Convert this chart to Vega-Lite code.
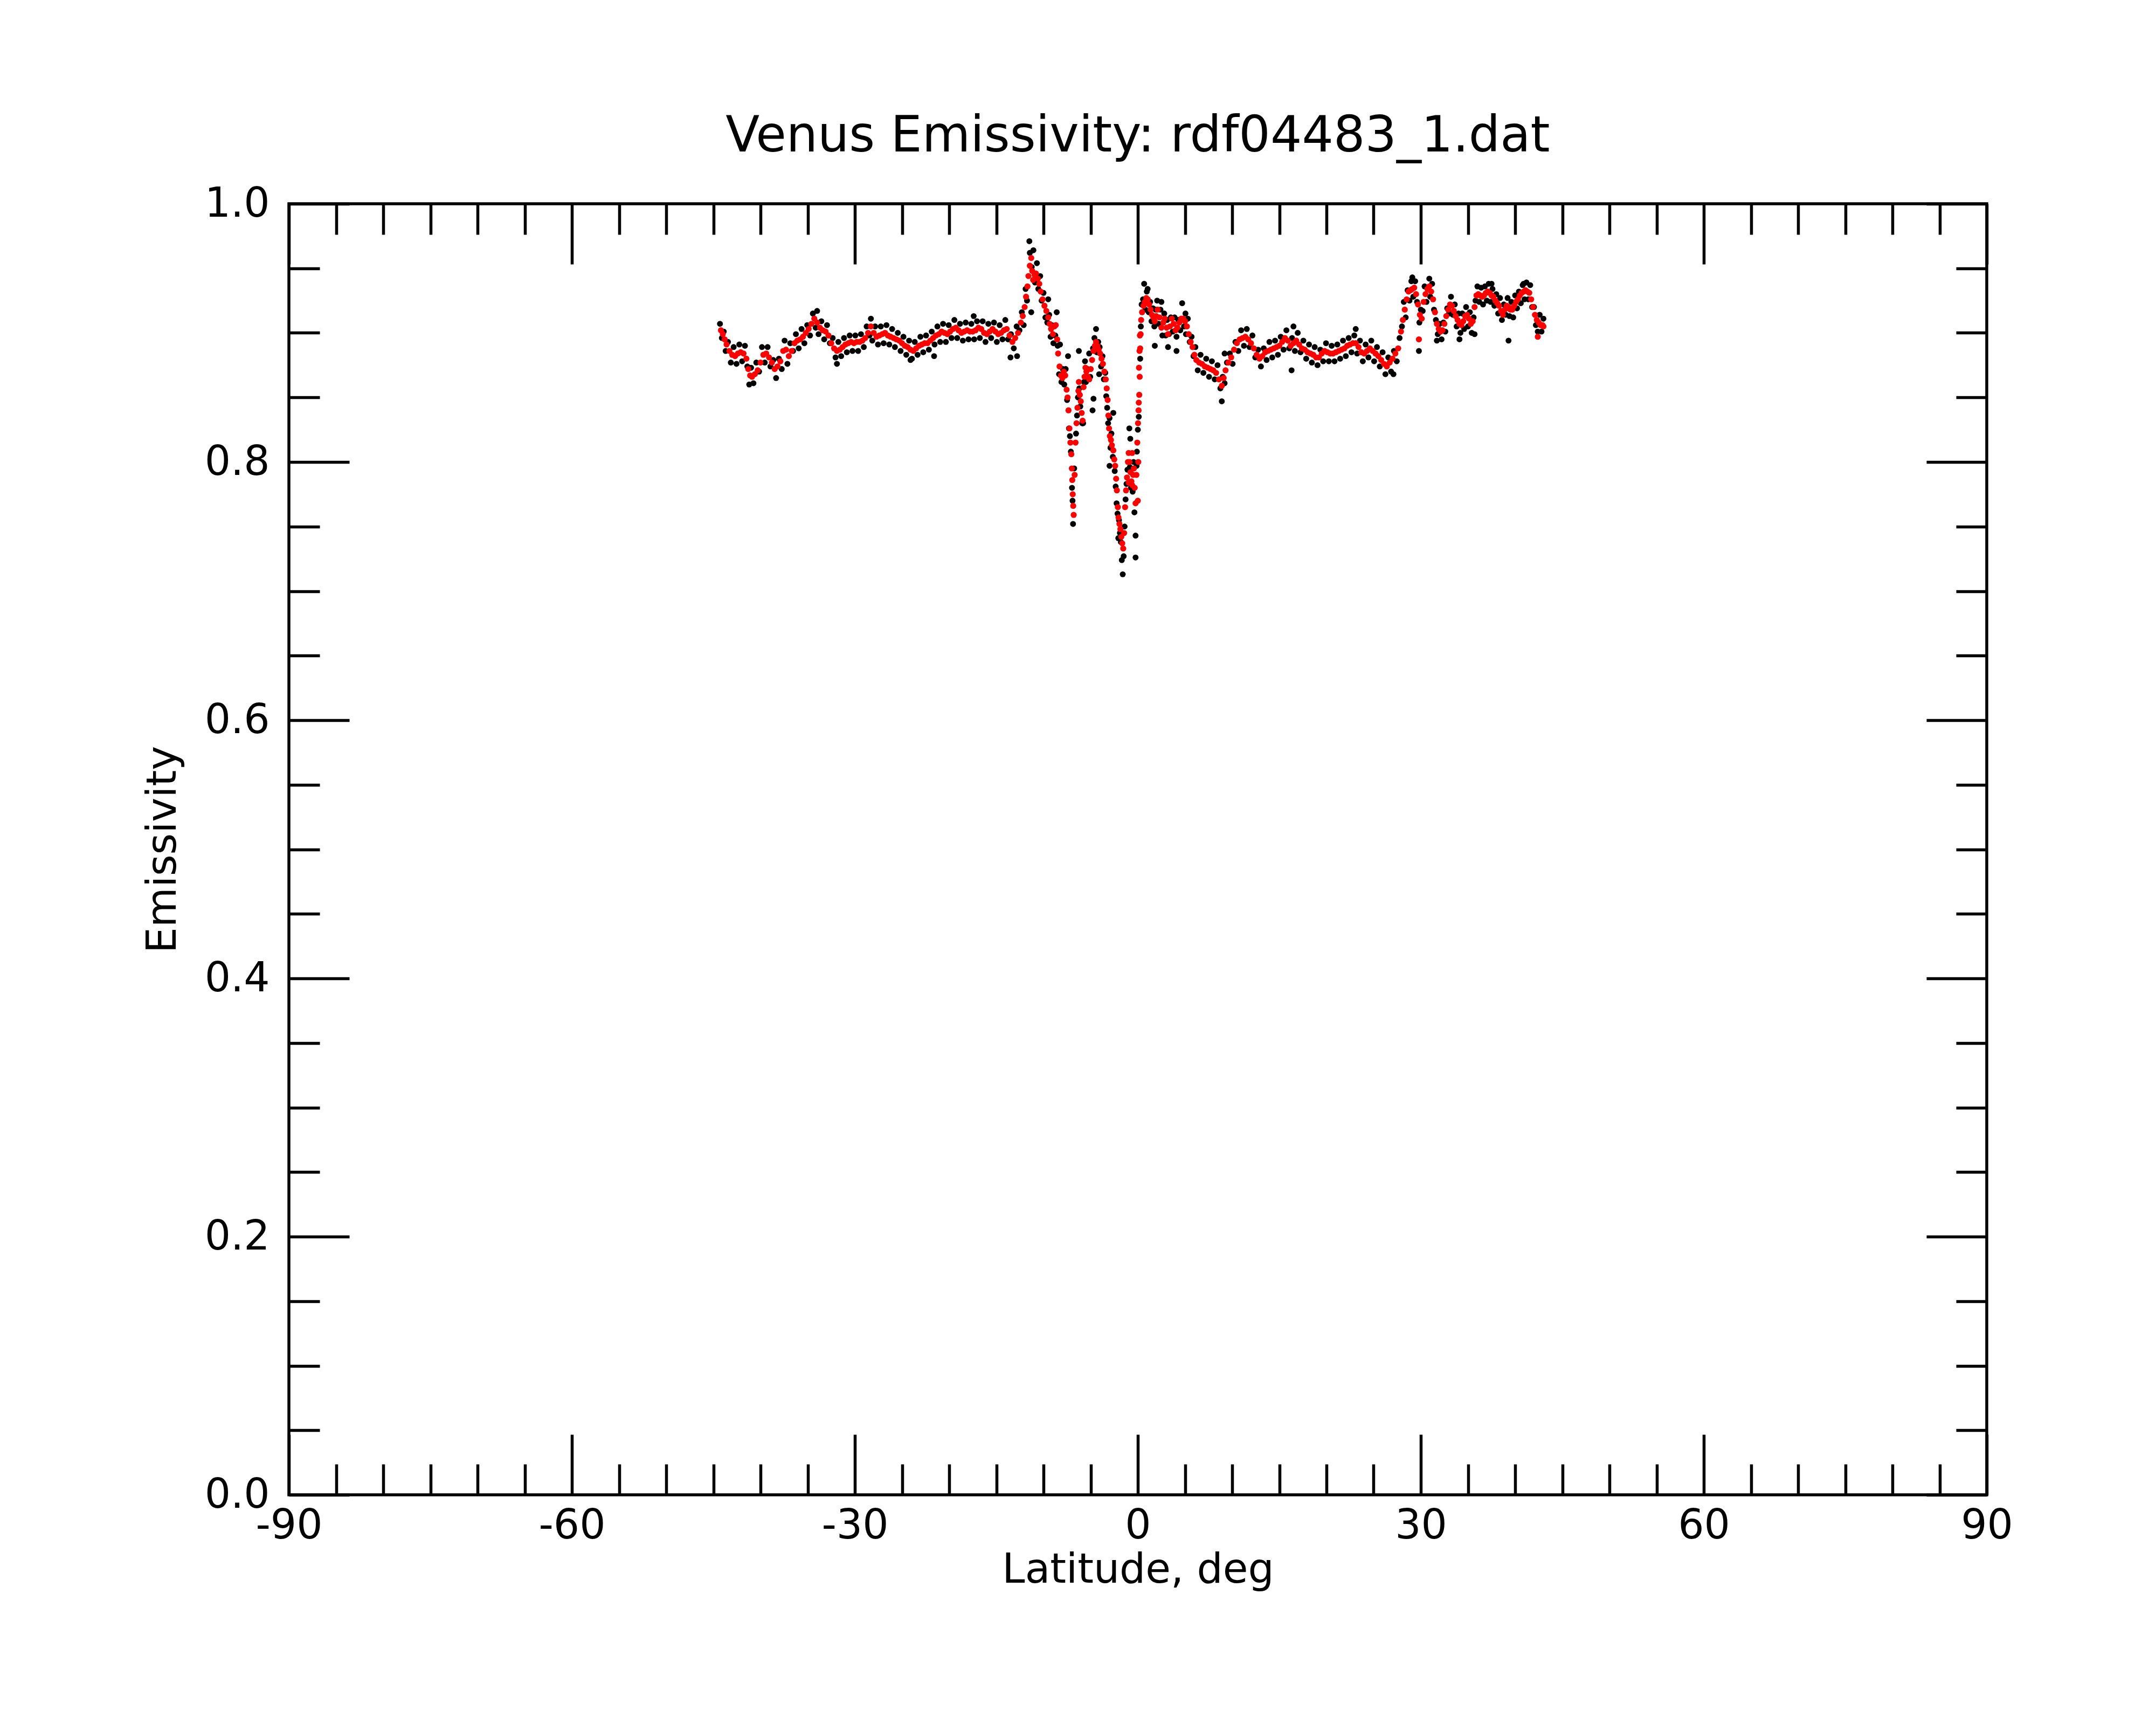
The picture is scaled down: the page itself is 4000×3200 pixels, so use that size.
{
"$schema":"https://vega.github.io/schema/vega-lite/v6.json",
"width":3150,"height":2395,
"autosize":{"type":"none"},
"padding":{"left":536,"top":378,"right":314,"bottom":427},
"title":{"text":"Venus Emissivity: rdf04483_1.dat","fontSize":92,"font":"DejaVu Sans","fontWeight":"normal","color":"#000000","baseline":"alphabetic","offset":-33,"anchor":"middle","frame":"group"},
"config":{"font":"DejaVu Sans","view":{"stroke":"#000000","strokeWidth":5.5,"fill":"white"},"background":"white"},
"datasets":{
"red":[
{"lat":-44.2,"em":0.902},{"lat":-44.0,"em":0.899},{"lat":-43.8,"em":0.895},{"lat":-43.6,"em":0.891},{"lat":-43.3,"em":0.886},{"lat":-43.0,"em":0.883},{"lat":-42.7,"em":0.882},{"lat":-42.4,"em":0.884},{"lat":-42.1,"em":0.885},{"lat":-41.8,"em":0.884},{"lat":-41.5,"em":0.880},{"lat":-41.3,"em":0.872},{"lat":-41.1,"em":0.867},{"lat":-40.9,"em":0.866},{"lat":-40.6,"em":0.868},{"lat":-40.3,"em":0.871},{"lat":-40.0,"em":0.877},{"lat":-39.7,"em":0.883},{"lat":-39.4,"em":0.884},{"lat":-39.1,"em":0.881},{"lat":-38.8,"em":0.877},{"lat":-38.5,"em":0.872},{"lat":-38.2,"em":0.874},{"lat":-37.9,"em":0.878},{"lat":-37.6,"em":0.886},{"lat":-37.3,"em":0.887},{"lat":-37.0,"em":0.882},{"lat":-36.7,"em":0.886},{"lat":-36.4,"em":0.892},{"lat":-36.1,"em":0.894},{"lat":-35.8,"em":0.895},{"lat":-35.5,"em":0.897},{"lat":-35.2,"em":0.900},{"lat":-34.9,"em":0.903},{"lat":-34.6,"em":0.907},{"lat":-34.3,"em":0.911},{"lat":-34.0,"em":0.908},{"lat":-33.7,"em":0.904},{"lat":-33.4,"em":0.902},{"lat":-33.1,"em":0.901},{"lat":-32.8,"em":0.898},{"lat":-32.5,"em":0.892},{"lat":-32.2,"em":0.888},{"lat":-31.9,"em":0.886},{"lat":-31.6,"em":0.887},{"lat":-31.3,"em":0.889},{"lat":-31.0,"em":0.891},{"lat":-30.7,"em":0.892},{"lat":-30.4,"em":0.893},{"lat":-30.1,"em":0.892},{"lat":-29.8,"em":0.893},{"lat":-29.5,"em":0.893},{"lat":-29.2,"em":0.894},{"lat":-28.9,"em":0.896},{"lat":-28.6,"em":0.900},{"lat":-28.3,"em":0.905},{"lat":-28.0,"em":0.900},{"lat":-27.7,"em":0.897},{"lat":-27.4,"em":0.898},{"lat":-27.1,"em":0.899},{"lat":-26.8,"em":0.900},{"lat":-26.5,"em":0.898},{"lat":-26.2,"em":0.897},{"lat":-25.9,"em":0.896},{"lat":-25.6,"em":0.895},{"lat":-25.3,"em":0.894},{"lat":-25.0,"em":0.892},{"lat":-24.7,"em":0.890},{"lat":-24.4,"em":0.889},{"lat":-24.1,"em":0.887},{"lat":-23.8,"em":0.886},{"lat":-23.5,"em":0.888},{"lat":-23.2,"em":0.890},{"lat":-22.9,"em":0.891},{"lat":-22.6,"em":0.892},{"lat":-22.3,"em":0.892},{"lat":-22.0,"em":0.894},{"lat":-21.7,"em":0.896},{"lat":-21.4,"em":0.898},{"lat":-21.1,"em":0.899},{"lat":-20.8,"em":0.901},{"lat":-20.5,"em":0.900},{"lat":-20.2,"em":0.899},{"lat":-19.9,"em":0.901},{"lat":-19.6,"em":0.903},{"lat":-19.3,"em":0.904},{"lat":-19.0,"em":0.902},{"lat":-18.7,"em":0.900},{"lat":-18.4,"em":0.901},{"lat":-18.1,"em":0.902},{"lat":-17.8,"em":0.901},{"lat":-17.5,"em":0.901},{"lat":-17.2,"em":0.902},{"lat":-16.9,"em":0.904},{"lat":-16.6,"em":0.903},{"lat":-16.3,"em":0.900},{"lat":-16.0,"em":0.899},{"lat":-15.7,"em":0.901},{"lat":-15.4,"em":0.903},{"lat":-15.1,"em":0.901},{"lat":-14.8,"em":0.899},{"lat":-14.5,"em":0.900},{"lat":-14.2,"em":0.902},{"lat":-13.9,"em":0.903},{"lat":-13.6,"em":0.898},{"lat":-13.3,"em":0.893},{"lat":-13.0,"em":0.896},{"lat":-12.7,"em":0.900},{"lat":-12.4,"em":0.908},{"lat":-12.2,"em":0.913},{"lat":-12.0,"em":0.920},{"lat":-11.85,"em":0.928},{"lat":-11.7,"em":0.936},{"lat":-11.6,"em":0.944},{"lat":-11.45,"em":0.952},{"lat":-11.3,"em":0.958},{"lat":-11.2,"em":0.948},{"lat":-11.1,"em":0.941},{"lat":-10.95,"em":0.945},{"lat":-10.8,"em":0.946},{"lat":-10.6,"em":0.942},{"lat":-10.45,"em":0.938},{"lat":-10.3,"em":0.932},{"lat":-10.1,"em":0.926},{"lat":-9.9,"em":0.921},{"lat":-9.7,"em":0.917},{"lat":-9.5,"em":0.912},{"lat":-9.35,"em":0.907},{"lat":-9.2,"em":0.903},{"lat":-9.0,"em":0.899},{"lat":-8.85,"em":0.905},{"lat":-8.7,"em":0.906},{"lat":-8.55,"em":0.895},{"lat":-8.45,"em":0.884},{"lat":-8.3,"em":0.874},{"lat":-8.15,"em":0.867},{"lat":-8.0,"em":0.865},{"lat":-7.85,"em":0.870},{"lat":-7.7,"em":0.867},{"lat":-7.55,"em":0.856},{"lat":-7.45,"em":0.850},{"lat":-7.35,"em":0.840},{"lat":-7.25,"em":0.826},{"lat":-7.15,"em":0.815},{"lat":-7.05,"em":0.806},{"lat":-7.0,"em":0.795},{"lat":-6.95,"em":0.786},{"lat":-6.9,"em":0.775},{"lat":-6.85,"em":0.766},{"lat":-6.8,"em":0.759},{"lat":-6.7,"em":0.790},{"lat":-6.6,"em":0.815},{"lat":-6.5,"em":0.830},{"lat":-6.4,"em":0.842},{"lat":-6.3,"em":0.855},{"lat":-6.25,"em":0.862},{"lat":-6.15,"em":0.852},{"lat":-6.05,"em":0.847},{"lat":-5.95,"em":0.838},{"lat":-5.85,"em":0.832},{"lat":-5.75,"em":0.858},{"lat":-5.65,"em":0.866},{"lat":-5.55,"em":0.873},{"lat":-5.45,"em":0.870},{"lat":-5.3,"em":0.866},{"lat":-5.15,"em":0.864},{"lat":-5.0,"em":0.872},{"lat":-4.85,"em":0.879},{"lat":-4.7,"em":0.886},{"lat":-4.55,"em":0.890},{"lat":-4.43,"em":0.893},{"lat":-4.3,"em":0.890},{"lat":-4.15,"em":0.887},{"lat":-4.0,"em":0.884},{"lat":-3.85,"em":0.880},{"lat":-3.7,"em":0.876},{"lat":-3.55,"em":0.870},{"lat":-3.4,"em":0.864},{"lat":-3.3,"em":0.857},{"lat":-3.2,"em":0.848},{"lat":-3.12,"em":0.836},{"lat":-3.05,"em":0.826},{"lat":-2.97,"em":0.820},{"lat":-2.85,"em":0.817},{"lat":-2.75,"em":0.813},{"lat":-2.6,"em":0.809},{"lat":-2.5,"em":0.802},{"lat":-2.4,"em":0.797},{"lat":-2.3,"em":0.787},{"lat":-2.22,"em":0.778},{"lat":-2.12,"em":0.765},{"lat":-2.05,"em":0.757},{"lat":-1.95,"em":0.752},{"lat":-1.85,"em":0.748},{"lat":-1.75,"em":0.742},{"lat":-1.65,"em":0.737},{"lat":-1.55,"em":0.733},{"lat":-1.45,"em":0.745},{"lat":-1.35,"em":0.765},{"lat":-1.25,"em":0.778},{"lat":-1.15,"em":0.788},{"lat":-1.05,"em":0.800},{"lat":-0.97,"em":0.807},{"lat":-0.97,"em":0.784},{"lat":-0.88,"em":0.800},{"lat":-0.78,"em":0.792},{"lat":-0.68,"em":0.785},{"lat":-0.6,"em":0.782},{"lat":-0.6,"em":0.807},{"lat":-0.5,"em":0.790},{"lat":-0.42,"em":0.795},{"lat":-0.33,"em":0.780},{"lat":-0.24,"em":0.768},{"lat":-0.15,"em":0.790},{"lat":-0.06,"em":0.815},{"lat":0.0,"em":0.770},{"lat":0.02,"em":0.830},{"lat":0.05,"em":0.800},{"lat":0.08,"em":0.840},{"lat":0.1,"em":0.846},{"lat":0.12,"em":0.873},{"lat":0.15,"em":0.852},{"lat":0.18,"em":0.886},{"lat":0.2,"em":0.866},{"lat":0.22,"em":0.898},{"lat":0.25,"em":0.888},{"lat":0.3,"em":0.899},{"lat":0.35,"em":0.910},{"lat":0.45,"em":0.916},{"lat":0.6,"em":0.921},{"lat":0.75,"em":0.924},{"lat":0.9,"em":0.927},{"lat":1.05,"em":0.926},{"lat":1.2,"em":0.922},{"lat":1.35,"em":0.918},{"lat":1.5,"em":0.914},{"lat":1.65,"em":0.912},{"lat":1.8,"em":0.909},{"lat":1.95,"em":0.913},{"lat":2.1,"em":0.918},{"lat":2.3,"em":0.912},{"lat":2.5,"em":0.904},{"lat":2.7,"em":0.908},{"lat":2.86,"em":0.911},{"lat":3.05,"em":0.904},{"lat":3.2,"em":0.899},{"lat":3.4,"em":0.905},{"lat":3.6,"em":0.911},{"lat":3.8,"em":0.907},{"lat":4.0,"em":0.902},{"lat":4.2,"em":0.904},{"lat":4.4,"em":0.908},{"lat":4.6,"em":0.911},{"lat":4.8,"em":0.911},{"lat":5.0,"em":0.909},{"lat":5.2,"em":0.905},{"lat":5.4,"em":0.899},{"lat":5.6,"em":0.893},{"lat":5.8,"em":0.889},{"lat":6.0,"em":0.883},{"lat":6.2,"em":0.879},{"lat":6.5,"em":0.877},{"lat":6.8,"em":0.876},{"lat":7.1,"em":0.874},{"lat":7.4,"em":0.873},{"lat":7.7,"em":0.872},{"lat":8.0,"em":0.871},{"lat":8.3,"em":0.869},{"lat":8.6,"em":0.864},{"lat":8.9,"em":0.859},{"lat":9.1,"em":0.865},{"lat":9.3,"em":0.871},{"lat":9.6,"em":0.877},{"lat":9.9,"em":0.881},{"lat":10.2,"em":0.887},{"lat":10.5,"em":0.892},{"lat":10.8,"em":0.895},{"lat":11.1,"em":0.896},{"lat":11.4,"em":0.897},{"lat":11.7,"em":0.895},{"lat":12.0,"em":0.892},{"lat":12.3,"em":0.888},{"lat":12.6,"em":0.883},{"lat":12.9,"em":0.880},{"lat":13.2,"em":0.882},{"lat":13.5,"em":0.885},{"lat":13.8,"em":0.886},{"lat":14.1,"em":0.887},{"lat":14.4,"em":0.888},{"lat":14.7,"em":0.889},{"lat":15.0,"em":0.890},{"lat":15.3,"em":0.893},{"lat":15.6,"em":0.896},{"lat":15.9,"em":0.894},{"lat":16.2,"em":0.890},{"lat":16.5,"em":0.892},{"lat":16.8,"em":0.894},{"lat":17.1,"em":0.891},{"lat":17.4,"em":0.888},{"lat":17.7,"em":0.887},{"lat":18.0,"em":0.885},{"lat":18.3,"em":0.884},{"lat":18.6,"em":0.883},{"lat":18.9,"em":0.881},{"lat":19.2,"em":0.881},{"lat":19.5,"em":0.884},{"lat":19.8,"em":0.886},{"lat":20.1,"em":0.885},{"lat":20.4,"em":0.884},{"lat":20.7,"em":0.884},{"lat":21.0,"em":0.885},{"lat":21.3,"em":0.886},{"lat":21.6,"em":0.887},{"lat":21.9,"em":0.888},{"lat":22.2,"em":0.890},{"lat":22.5,"em":0.891},{"lat":22.8,"em":0.892},{"lat":23.1,"em":0.892},{"lat":23.4,"em":0.889},{"lat":23.7,"em":0.885},{"lat":24.0,"em":0.884},{"lat":24.3,"em":0.886},{"lat":24.6,"em":0.888},{"lat":24.9,"em":0.886},{"lat":25.2,"em":0.884},{"lat":25.5,"em":0.882},{"lat":25.8,"em":0.879},{"lat":26.1,"em":0.876},{"lat":26.4,"em":0.874},{"lat":26.7,"em":0.877},{"lat":27.0,"em":0.880},{"lat":27.3,"em":0.884},{"lat":27.6,"em":0.888},{"lat":27.9,"em":0.901},{"lat":28.1,"em":0.910},{"lat":28.3,"em":0.918},{"lat":28.5,"em":0.926},{"lat":28.7,"em":0.932},{"lat":28.9,"em":0.933},{"lat":29.1,"em":0.934},{"lat":29.3,"em":0.935},{"lat":29.5,"em":0.930},{"lat":29.7,"em":0.922},{"lat":29.8,"em":0.895},{"lat":29.9,"em":0.914},{"lat":30.1,"em":0.911},{"lat":30.3,"em":0.924},{"lat":30.5,"em":0.930},{"lat":30.7,"em":0.934},{"lat":30.9,"em":0.936},{"lat":31.1,"em":0.932},{"lat":31.3,"em":0.926},{"lat":31.5,"em":0.916},{"lat":31.7,"em":0.907},{"lat":31.9,"em":0.903},{"lat":32.1,"em":0.901},{"lat":32.3,"em":0.902},{"lat":32.5,"em":0.907},{"lat":32.7,"em":0.913},{"lat":32.9,"em":0.918},{"lat":33.1,"em":0.922},{"lat":33.3,"em":0.921},{"lat":33.5,"em":0.917},{"lat":33.7,"em":0.913},{"lat":33.9,"em":0.910},{"lat":34.1,"em":0.907},{"lat":34.3,"em":0.906},{"lat":34.5,"em":0.909},{"lat":34.7,"em":0.913},{"lat":34.9,"em":0.914},{"lat":35.1,"em":0.911},{"lat":35.3,"em":0.907},{"lat":35.5,"em":0.909},{"lat":35.7,"em":0.920},{"lat":35.9,"em":0.929},{"lat":36.1,"em":0.930},{"lat":36.3,"em":0.929},{"lat":36.5,"em":0.928},{"lat":36.7,"em":0.929},{"lat":36.9,"em":0.931},{"lat":37.1,"em":0.932},{"lat":37.3,"em":0.931},{"lat":37.5,"em":0.929},{"lat":37.7,"em":0.928},{"lat":37.9,"em":0.925},{"lat":38.1,"em":0.923},{"lat":38.3,"em":0.921},{"lat":38.5,"em":0.917},{"lat":38.7,"em":0.914},{"lat":38.9,"em":0.918},{"lat":39.1,"em":0.921},{"lat":39.3,"em":0.920},{"lat":39.5,"em":0.918},{"lat":39.7,"em":0.918},{"lat":39.9,"em":0.921},{"lat":40.1,"em":0.924},{"lat":40.3,"em":0.926},{"lat":40.5,"em":0.929},{"lat":40.7,"em":0.931},{"lat":40.9,"em":0.932},{"lat":41.1,"em":0.933},{"lat":41.3,"em":0.932},{"lat":41.5,"em":0.931},{"lat":41.7,"em":0.926},{"lat":41.9,"em":0.920},{"lat":42.1,"em":0.914},{"lat":42.3,"em":0.910},{"lat":42.4,"em":0.897},{"lat":42.5,"em":0.908},{"lat":42.7,"em":0.906},{"lat":42.9,"em":0.906},{"lat":43.0,"em":0.905}
],
"black":[
{"lat":-44.3,"em":0.907},{"lat":-44.1,"em":0.896},{"lat":-43.9,"em":0.901},{"lat":-43.7,"em":0.886},{"lat":-43.45,"em":0.893},{"lat":-43.15,"em":0.877},{"lat":-42.85,"em":0.889},{"lat":-42.55,"em":0.876},{"lat":-42.25,"em":0.891},{"lat":-41.95,"em":0.878},{"lat":-41.65,"em":0.890},{"lat":-41.4,"em":0.874},{"lat":-41.2,"em":0.860},{"lat":-41.0,"em":0.873},{"lat":-40.75,"em":0.861},{"lat":-40.45,"em":0.877},{"lat":-40.15,"em":0.870},{"lat":-39.85,"em":0.889},{"lat":-39.55,"em":0.877},{"lat":-39.25,"em":0.889},{"lat":-38.95,"em":0.874},{"lat":-38.65,"em":0.879},{"lat":-38.35,"em":0.865},{"lat":-38.05,"em":0.880},{"lat":-37.75,"em":0.872},{"lat":-37.45,"em":0.894},{"lat":-37.15,"em":0.876},{"lat":-36.85,"em":0.892},{"lat":-36.55,"em":0.886},{"lat":-36.25,"em":0.899},{"lat":-35.95,"em":0.888},{"lat":-35.65,"em":0.903},{"lat":-35.35,"em":0.892},{"lat":-35.05,"em":0.906},{"lat":-34.75,"em":0.898},{"lat":-34.45,"em":0.915},{"lat":-34.15,"em":0.904},{"lat":-34.0,"em":0.917},{"lat":-33.85,"em":0.899},{"lat":-33.55,"em":0.909},{"lat":-33.25,"em":0.895},{"lat":-32.95,"em":0.906},{"lat":-32.65,"em":0.892},{"lat":-32.35,"em":0.896},{"lat":-32.05,"em":0.881},{"lat":-31.9,"em":0.876},{"lat":-31.75,"em":0.893},{"lat":-31.45,"em":0.882},{"lat":-31.15,"em":0.896},{"lat":-30.85,"em":0.885},{"lat":-30.55,"em":0.898},{"lat":-30.25,"em":0.886},{"lat":-29.95,"em":0.898},{"lat":-29.65,"em":0.886},{"lat":-29.35,"em":0.899},{"lat":-29.05,"em":0.889},{"lat":-28.75,"em":0.905},{"lat":-28.45,"em":0.898},{"lat":-28.3,"em":0.911},{"lat":-28.15,"em":0.894},{"lat":-27.85,"em":0.905},{"lat":-27.55,"em":0.891},{"lat":-27.25,"em":0.905},{"lat":-26.95,"em":0.892},{"lat":-26.65,"em":0.906},{"lat":-26.35,"em":0.891},{"lat":-26.05,"em":0.903},{"lat":-25.75,"em":0.889},{"lat":-25.45,"em":0.900},{"lat":-25.15,"em":0.886},{"lat":-24.85,"em":0.897},{"lat":-24.55,"em":0.883},{"lat":-24.25,"em":0.894},{"lat":-24.1,"em":0.879},{"lat":-23.95,"em":0.880},{"lat":-23.65,"em":0.893},{"lat":-23.35,"em":0.883},{"lat":-23.05,"em":0.897},{"lat":-22.75,"em":0.885},{"lat":-22.45,"em":0.898},{"lat":-22.15,"em":0.887},{"lat":-21.85,"em":0.901},{"lat":-21.6,"em":0.882},{"lat":-21.55,"em":0.891},{"lat":-21.25,"em":0.905},{"lat":-20.95,"em":0.893},{"lat":-20.65,"em":0.907},{"lat":-20.35,"em":0.893},{"lat":-20.05,"em":0.906},{"lat":-19.75,"em":0.896},{"lat":-19.45,"em":0.910},{"lat":-19.15,"em":0.896},{"lat":-18.85,"em":0.907},{"lat":-18.55,"em":0.894},{"lat":-18.25,"em":0.908},{"lat":-17.95,"em":0.895},{"lat":-17.65,"em":0.907},{"lat":-17.4,"em":0.913},{"lat":-17.35,"em":0.895},{"lat":-17.05,"em":0.909},{"lat":-16.75,"em":0.896},{"lat":-16.45,"em":0.909},{"lat":-16.15,"em":0.893},{"lat":-15.85,"em":0.907},{"lat":-15.55,"em":0.896},{"lat":-15.25,"em":0.908},{"lat":-14.95,"em":0.893},{"lat":-14.65,"em":0.906},{"lat":-14.35,"em":0.895},{"lat":-14.05,"em":0.910},{"lat":-13.75,"em":0.895},{"lat":-13.5,"em":0.881},{"lat":-13.45,"em":0.899},{"lat":-13.15,"em":0.888},{"lat":-12.85,"em":0.905},{"lat":-12.8,"em":0.882},{"lat":-12.55,"em":0.902},{"lat":-12.3,"em":0.916},{"lat":-12.1,"em":0.906},{"lat":-11.9,"em":0.934},{"lat":-11.75,"em":0.925},{"lat":-11.5,"em":0.971},{"lat":-11.45,"em":0.962},{"lat":-11.3,"em":0.916},{"lat":-11.25,"em":0.951},{"lat":-11.07,"em":0.964},{"lat":-10.9,"em":0.939},{"lat":-10.7,"em":0.954},{"lat":-10.55,"em":0.934},{"lat":-10.35,"em":0.944},{"lat":-10.2,"em":0.925},{"lat":-10.0,"em":0.931},{"lat":-9.8,"em":0.912},{"lat":-9.5,"em":0.926},{"lat":-9.6,"em":0.908},{"lat":-9.4,"em":0.914},{"lat":-9.25,"em":0.897},{"lat":-9.1,"em":0.906},{"lat":-8.95,"em":0.892},{"lat":-8.6,"em":0.916},{"lat":-8.75,"em":0.898},{"lat":-8.5,"em":0.890},{"lat":-8.25,"em":0.891},{"lat":-8.35,"em":0.868},{"lat":-8.1,"em":0.862},{"lat":-7.95,"em":0.872},{"lat":-7.8,"em":0.860},{"lat":-7.65,"em":0.872},{"lat":-7.5,"em":0.848},{"lat":-7.4,"em":0.882},{"lat":-7.3,"em":0.826},{"lat":-7.2,"em":0.820},{"lat":-7.1,"em":0.808},{"lat":-6.98,"em":0.780},{"lat":-6.92,"em":0.770},{"lat":-6.87,"em":0.752},{"lat":-6.75,"em":0.795},{"lat":-6.55,"em":0.822},{"lat":-6.45,"em":0.836},{"lat":-6.35,"em":0.850},{"lat":-6.25,"em":0.886},{"lat":-6.2,"em":0.857},{"lat":-6.1,"em":0.843},{"lat":-5.9,"em":0.830},{"lat":-5.8,"em":0.830},{"lat":-5.7,"em":0.862},{"lat":-5.6,"em":0.878},{"lat":-5.5,"em":0.862},{"lat":-5.35,"em":0.872},{"lat":-5.16,"em":0.884},{"lat":-5.05,"em":0.866},{"lat":-4.8,"em":0.840},{"lat":-4.7,"em":0.849},{"lat":-4.75,"em":0.888},{"lat":-4.6,"em":0.896},{"lat":-4.43,"em":0.903},{"lat":-4.35,"em":0.885},{"lat":-4.2,"em":0.893},{"lat":-4.1,"em":0.868},{"lat":-4.05,"em":0.889},{"lat":-3.9,"em":0.874},{"lat":-3.75,"em":0.882},{"lat":-3.6,"em":0.864},{"lat":-3.45,"em":0.869},{"lat":-3.35,"em":0.851},{"lat":-3.25,"em":0.842},{"lat":-3.15,"em":0.830},{"lat":-3.0,"em":0.834},{"lat":-3.0,"em":0.797},{"lat":-2.9,"em":0.811},{"lat":-2.8,"em":0.822},{"lat":-2.65,"em":0.804},{"lat":-2.6,"em":0.838},{"lat":-2.45,"em":0.793},{"lat":-2.35,"em":0.781},{"lat":-2.25,"em":0.768},{"lat":-2.15,"em":0.760},{"lat":-2.07,"em":0.741},{"lat":-2.0,"em":0.755},{"lat":-1.9,"em":0.745},{"lat":-1.8,"em":0.738},{"lat":-1.7,"em":0.724},{"lat":-1.6,"em":0.713},{"lat":-1.5,"em":0.727},{"lat":-1.4,"em":0.750},{"lat":-1.3,"em":0.771},{"lat":-1.2,"em":0.783},{"lat":-1.1,"em":0.794},{"lat":-0.9,"em":0.826},{"lat":-0.8,"em":0.818},{"lat":-0.85,"em":0.796},{"lat":-0.72,"em":0.780},{"lat":-0.55,"em":0.777},{"lat":-0.45,"em":0.800},{"lat":-0.36,"em":0.761},{"lat":-0.24,"em":0.743},{"lat":-0.24,"em":0.726},{"lat":-0.13,"em":0.797},{"lat":-0.1,"em":0.808},{"lat":0.0,"em":0.825},{"lat":0.1,"em":0.835},{"lat":0.25,"em":0.880},{"lat":0.32,"em":0.905},{"lat":0.4,"em":0.922},{"lat":0.55,"em":0.926},{"lat":0.67,"em":0.938},{"lat":0.8,"em":0.918},{"lat":0.95,"em":0.932},{"lat":1.04,"em":0.934},{"lat":1.15,"em":0.916},{"lat":1.3,"em":0.924},{"lat":1.45,"em":0.909},{"lat":1.6,"em":0.919},{"lat":1.8,"em":0.890},{"lat":1.75,"em":0.905},{"lat":1.9,"em":0.918},{"lat":2.05,"em":0.925},{"lat":2.2,"em":0.907},{"lat":2.4,"em":0.918},{"lat":2.5,"em":0.924},{"lat":2.6,"em":0.898},{"lat":2.8,"em":0.915},{"lat":2.95,"em":0.898},{"lat":3.1,"em":0.910},{"lat":3.2,"em":0.889},{"lat":3.3,"em":0.899},{"lat":3.5,"em":0.912},{"lat":3.7,"em":0.901},{"lat":3.9,"em":0.912},{"lat":4.1,"em":0.886},{"lat":4.1,"em":0.897},{"lat":4.3,"em":0.910},{"lat":4.5,"em":0.902},{"lat":4.7,"em":0.923},{"lat":4.9,"em":0.905},{"lat":5.05,"em":0.915},{"lat":5.1,"em":0.899},{"lat":5.3,"em":0.911},{"lat":5.5,"em":0.893},{"lat":5.7,"em":0.897},{"lat":5.9,"em":0.882},{"lat":6.1,"em":0.889},{"lat":6.35,"em":0.871},{"lat":6.65,"em":0.883},{"lat":6.95,"em":0.869},{"lat":7.25,"em":0.880},{"lat":7.55,"em":0.866},{"lat":7.85,"em":0.878},{"lat":8.15,"em":0.864},{"lat":8.45,"em":0.875},{"lat":8.75,"em":0.857},{"lat":8.9,"em":0.847},{"lat":9.0,"em":0.866},{"lat":9.2,"em":0.884},{"lat":9.2,"em":0.861},{"lat":9.45,"em":0.877},{"lat":9.75,"em":0.884},{"lat":10.05,"em":0.876},{"lat":10.35,"em":0.893},{"lat":10.65,"em":0.886},{"lat":10.95,"em":0.902},{"lat":11.25,"em":0.890},{"lat":11.55,"em":0.903},{"lat":11.85,"em":0.889},{"lat":12.15,"em":0.898},{"lat":12.45,"em":0.881},{"lat":12.75,"em":0.887},{"lat":13.05,"em":0.874},{"lat":13.35,"em":0.888},{"lat":13.65,"em":0.879},{"lat":13.95,"em":0.893},{"lat":14.25,"em":0.881},{"lat":14.55,"em":0.894},{"lat":14.85,"em":0.883},{"lat":15.15,"em":0.897},{"lat":15.45,"em":0.887},{"lat":15.75,"em":0.902},{"lat":16.05,"em":0.888},{"lat":16.3,"em":0.871},{"lat":16.5,"em":0.905},{"lat":16.35,"em":0.896},{"lat":16.65,"em":0.886},{"lat":16.95,"em":0.900},{"lat":17.25,"em":0.885},{"lat":17.55,"em":0.894},{"lat":17.85,"em":0.880},{"lat":18.15,"em":0.891},{"lat":18.45,"em":0.877},{"lat":18.75,"em":0.889},{"lat":19.05,"em":0.875},{"lat":19.35,"em":0.887},{"lat":19.65,"em":0.878},{"lat":19.95,"em":0.892},{"lat":20.25,"em":0.878},{"lat":20.55,"em":0.890},{"lat":20.85,"em":0.878},{"lat":21.15,"em":0.891},{"lat":21.45,"em":0.880},{"lat":21.75,"em":0.894},{"lat":22.05,"em":0.882},{"lat":22.35,"em":0.896},{"lat":22.65,"em":0.885},{"lat":22.95,"em":0.898},{"lat":23.1,"em":0.903},{"lat":23.25,"em":0.884},{"lat":23.55,"em":0.894},{"lat":23.85,"em":0.878},{"lat":24.15,"em":0.891},{"lat":24.45,"em":0.881},{"lat":24.75,"em":0.894},{"lat":25.05,"em":0.878},{"lat":25.35,"em":0.889},{"lat":25.65,"em":0.874},{"lat":25.95,"em":0.885},{"lat":26.25,"em":0.868},{"lat":26.55,"em":0.881},{"lat":26.85,"em":0.870},{"lat":27.1,"em":0.868},{"lat":27.15,"em":0.886},{"lat":27.45,"em":0.878},{"lat":27.75,"em":0.896},{"lat":28.0,"em":0.905},{"lat":28.2,"em":0.924},{"lat":28.4,"em":0.912},{"lat":28.6,"em":0.933},{"lat":28.8,"em":0.925},{"lat":29.0,"em":0.940},{"lat":29.1,"em":0.943},{"lat":29.2,"em":0.928},{"lat":29.4,"em":0.940},{"lat":29.6,"em":0.924},{"lat":29.8,"em":0.886},{"lat":29.85,"em":0.908},{"lat":30.0,"em":0.918},{"lat":30.2,"em":0.917},{"lat":30.4,"em":0.936},{"lat":30.6,"em":0.924},{"lat":30.9,"em":0.942},{"lat":31.0,"em":0.928},{"lat":31.2,"em":0.938},{"lat":31.4,"em":0.918},{"lat":31.6,"em":0.910},{"lat":31.7,"em":0.894},{"lat":31.8,"em":0.899},{"lat":32.0,"em":0.907},{"lat":32.2,"em":0.895},{"lat":32.4,"em":0.908},{"lat":32.6,"em":0.901},{"lat":32.8,"em":0.919},{"lat":33.0,"em":0.915},{"lat":33.2,"em":0.928},{"lat":33.4,"em":0.914},{"lat":33.6,"em":0.922},{"lat":33.8,"em":0.905},{"lat":34.0,"em":0.915},{"lat":34.1,"em":0.895},{"lat":34.2,"em":0.900},{"lat":34.4,"em":0.915},{"lat":34.6,"em":0.903},{"lat":34.8,"em":0.920},{"lat":35.0,"em":0.905},{"lat":35.2,"em":0.916},{"lat":35.4,"em":0.900},{"lat":35.6,"em":0.912},{"lat":35.7,"em":0.899},{"lat":35.8,"em":0.925},{"lat":36.0,"em":0.936},{"lat":36.2,"em":0.924},{"lat":36.4,"em":0.935},{"lat":36.6,"em":0.922},{"lat":36.8,"em":0.936},{"lat":37.0,"em":0.925},{"lat":37.2,"em":0.938},{"lat":37.4,"em":0.924},{"lat":37.5,"em":0.938},{"lat":37.6,"em":0.934},{"lat":37.8,"em":0.921},{"lat":38.0,"em":0.930},{"lat":38.2,"em":0.915},{"lat":38.4,"em":0.927},{"lat":38.6,"em":0.910},{"lat":38.8,"em":0.922},{"lat":39.0,"em":0.914},{"lat":39.2,"em":0.927},{"lat":39.3,"em":0.894},{"lat":39.4,"em":0.913},{"lat":39.6,"em":0.924},{"lat":39.8,"em":0.912},{"lat":40.0,"em":0.929},{"lat":40.2,"em":0.919},{"lat":40.4,"em":0.932},{"lat":40.6,"em":0.923},{"lat":40.8,"em":0.937},{"lat":40.9,"em":0.938},{"lat":41.0,"em":0.926},{"lat":41.2,"em":0.939},{"lat":41.4,"em":0.926},{"lat":41.6,"em":0.937},{"lat":41.8,"em":0.920},{"lat":42.0,"em":0.920},{"lat":42.2,"em":0.906},{"lat":42.4,"em":0.901},{"lat":42.6,"em":0.914},{"lat":42.8,"em":0.901},{"lat":43.0,"em":0.911}
]},
"resolve":{"axis":{"x":"independent","y":"independent"}},
"layer":[
{"data":{"name":"black"},
"mark":{"type":"point","shape":"circle","filled":true,"size":120,"color":"#000000","opacity":1,"strokeWidth":0},
"encoding":{
"x":{"field":"lat","type":"quantitative","scale":{"domain":[-90,90],"nice":false,"zero":false},
"axis":{"orient":"bottom","title":"Latitude, deg","titleFontSize":76,"titleFontWeight":"normal","titleColor":"#000000","titleBaseline":"alphabetic","titleY":162,
"values":[-90,-85,-80,-75,-70,-65,-60,-55,-50,-45,-40,-35,-30,-25,-20,-15,-10,-5,0,5,10,15,20,25,30,35,40,45,50,55,60,65,70,75,80,85,90],
"domain":false,"grid":false,"tickColor":"#000000","tickWidth":5.5,
"tickSize":{"condition":{"test":"datum.value % 30 === 0","value":-112},"value":-57},
"labelExpr":"datum.value % 30 === 0 ? '' + datum.value : ''","labelFontSize":76,"labelColor":"#000000","labelPadding":132,"labelFlush":false,"labelOverlap":false,"labelBaseline":"top"}},
"y":{"field":"em","type":"quantitative","scale":{"domain":[0,1],"nice":false,"zero":false},
"axis":{"orient":"left","title":"Emissivity","titleFontSize":76,"titleFontWeight":"normal","titleColor":"#000000","titleBaseline":"alphabetic","titleAngle":270,"titleX":-211,
"values":[0,0.05,0.1,0.15,0.2,0.25,0.3,0.35,0.4,0.45,0.5,0.55,0.6,0.65,0.7,0.75,0.8,0.85,0.9,0.95,1],
"domain":false,"grid":false,"tickColor":"#000000","tickWidth":5.5,
"tickSize":{"condition":{"test":"abs(datum.value*5 - round(datum.value*5)) < 0.001","value":-112},"value":-57},
"labelExpr":"abs(datum.value*5 - round(datum.value*5)) < 0.001 ? format(datum.value, '.1f') : ''","labelFontSize":76,"labelColor":"#000000","labelPadding":148,"labelOverlap":false,"labelFlush":false,"labelBaseline":"middle"}}
}},
{"data":{"name":"red"},
"mark":{"type":"point","shape":"circle","filled":true,"size":125,"color":"#ff0000","opacity":1,"strokeWidth":0},
"encoding":{
"x":{"field":"lat","type":"quantitative",
"axis":{"orient":"top","title":null,"labels":false,
"values":[-90,-85,-80,-75,-70,-65,-60,-55,-50,-45,-40,-35,-30,-25,-20,-15,-10,-5,0,5,10,15,20,25,30,35,40,45,50,55,60,65,70,75,80,85,90],
"domain":false,"grid":false,"tickColor":"#000000","tickWidth":5.5,
"tickSize":{"condition":{"test":"datum.value % 30 === 0","value":-112},"value":-57}}},
"y":{"field":"em","type":"quantitative",
"axis":{"orient":"right","title":null,"labels":false,
"values":[0,0.05,0.1,0.15,0.2,0.25,0.3,0.35,0.4,0.45,0.5,0.55,0.6,0.65,0.7,0.75,0.8,0.85,0.9,0.95,1],
"domain":false,"grid":false,"tickColor":"#000000","tickWidth":5.5,
"tickSize":{"condition":{"test":"abs(datum.value*5 - round(datum.value*5)) < 0.001","value":-112},"value":-57}}}
}}
]
}
